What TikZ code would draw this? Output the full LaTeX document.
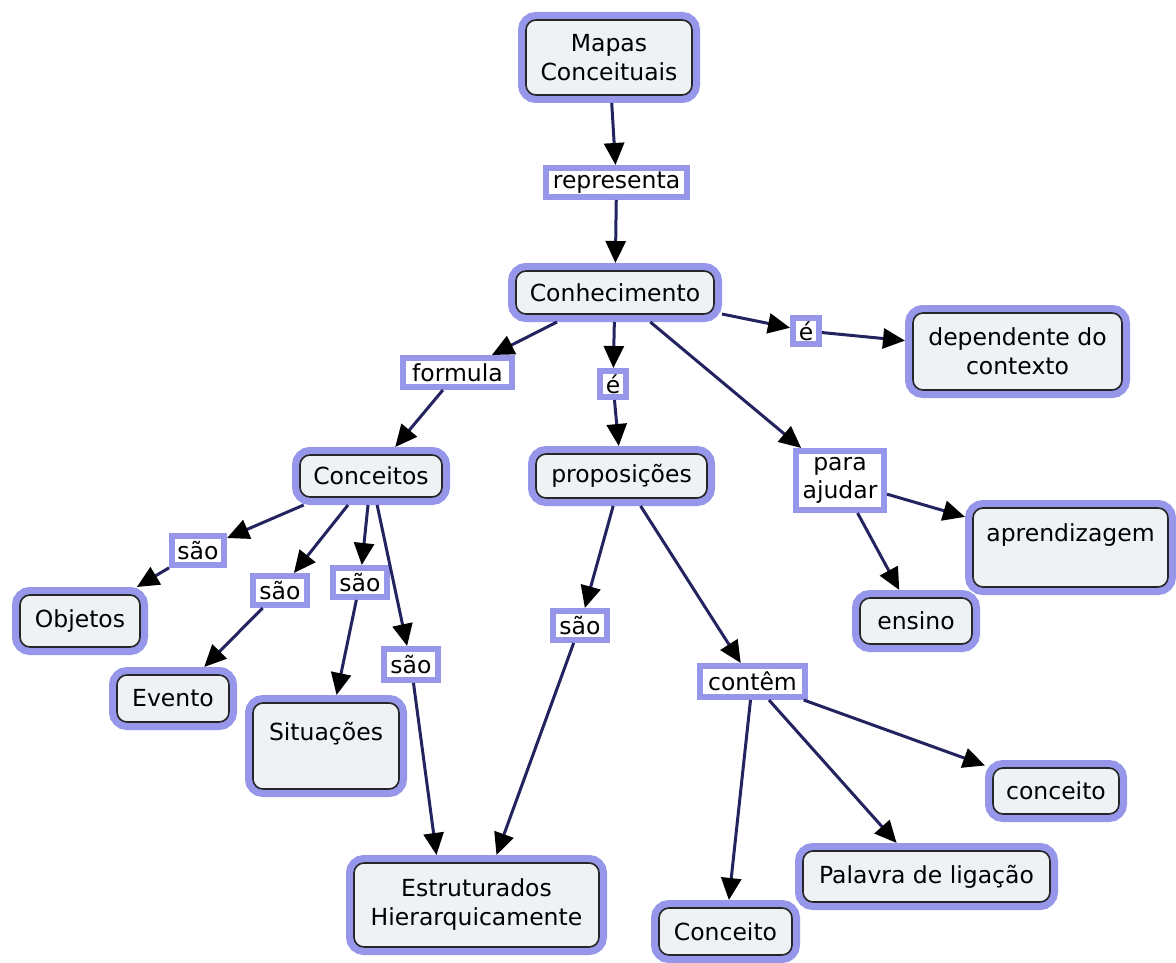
\documentclass[tikz,border=0pt]{standalone}
\usepackage{fontspec}
\setmainfont{DejaVu Sans}
\usetikzlibrary{arrows.meta}
\definecolor{lav}{RGB}{150,150,235}
\definecolor{cfill}{RGB}{238,242,245}
\definecolor{navy}{RGB}{35,35,95}
\begin{document}
\begin{tikzpicture}[x=1pt,y=-1pt,
  concept/.style={draw=black!85, line width=1.6pt, fill=cfill, rounded corners=10pt,
     preaction={draw=lav, line width=16pt},
     inner sep=0pt, outer sep=8pt, align=center, font=\fontsize{23.5}{29}\selectfont},
  linkbox/.style={draw=lav, line width=6pt, fill=white, inner sep=0pt, outer sep=3pt,
     align=center, font=\fontsize{23.5}{28}\selectfont},
  conn/.style={draw=navy, line width=3pt, -{Triangle[length=22pt,width=20pt,color=black]}},
]
\useasboundingbox (0,0) rectangle (1176,963);
% concepts
\node[concept, minimum width=166pt, minimum height=75pt] (mapas) at (609,57.5) {Mapas\\Conceituais};
\node[concept, minimum width=198pt, minimum height=43pt] (conh) at (615,292.5) {Conhecimento};
\node[concept, minimum width=209pt, minimum height=77pt] (dep) at (1017.5,351.5) {dependente do\\contexto};
\node[concept, minimum width=142pt, minimum height=42pt] (conc) at (371,476) {Conceitos};
\node[concept, minimum width=171pt, minimum height=44pt] (prop) at (621.5,476) {proposições};
\node[concept, minimum width=195pt, minimum height=79pt] (apr) at (1070.5,547.5) {aprendizagem\\\mbox{}};
\node[concept, minimum width=112pt, minimum height=46pt] (ens) at (916,621) {ensino};
\node[concept, minimum width=120pt, minimum height=52pt] (obj) at (80,621) {Objetos};
\node[concept, minimum width=112pt, minimum height=47pt] (ev) at (173,698.5) {Evento};
\node[concept, minimum width=146pt, minimum height=86pt] (sit) at (326,746) {Situações\\\mbox{}};
\node[concept, minimum width=126pt, minimum height=46pt] (cl) at (1056,791) {conceito};
\node[concept, minimum width=247pt, minimum height=51pt] (pal) at (926.5,876.5) {Palavra de ligação};
\node[concept, minimum width=133pt, minimum height=47pt] (cu) at (725.5,931.5) {Conceito};
\node[concept, minimum width=245pt, minimum height=84pt] (estr) at (476.5,905) {Estruturados\\Hierarquicamente};
% linking phrases
\node[linkbox, minimum width=141pt, minimum height=29pt] (repr) at (616.5,182.5) {representa};
\node[linkbox, minimum width=26pt, minimum height=26pt] (e1) at (806,331) {é};
\node[linkbox, minimum width=109pt, minimum height=29pt] (form) at (457.5,372.5) {formula};
\node[linkbox, minimum width=26pt, minimum height=26pt] (e2) at (613,384) {é};
\node[linkbox, minimum width=88pt, minimum height=59pt] (para) at (840,480.5) {para\\ajudar};
\node[linkbox, minimum width=52pt, minimum height=29pt] (s1) at (198,550.5) {são};
\node[linkbox, minimum width=54pt, minimum height=29pt] (s2) at (280,590.5) {são};
\node[linkbox, minimum width=54pt, minimum height=29pt] (s3) at (360,582.5) {são};
\node[linkbox, minimum width=54pt, minimum height=31pt] (s4) at (411,664.5) {são};
\node[linkbox, minimum width=54pt, minimum height=29pt] (s5) at (580,625.5) {são};
\node[linkbox, minimum width=105pt, minimum height=31pt] (cont) at (752.5,681.5) {contêm};
% connectors
\draw[conn] (mapas) -- (repr);
\draw[conn] (repr) -- (conh);
\draw[conn] (conh) -- (e1);
\draw[conn] (e1) -- (dep);
\draw[conn] (conh) -- (form);
\draw[conn] (form) -- (conc);
\draw[conn] (conh) -- (e2);
\draw[conn] (e2) -- (prop);
\draw[conn] (conh) -- (para);
\draw[conn] (para) -- (apr);
\draw[conn] (para) -- (ens);
\draw[conn] (conc) -- (s1);
\draw[conn] (s1) -- (obj);
\draw[conn] (conc) -- (s2);
\draw[conn] (s2) -- (ev);
\draw[conn] (conc) -- (s3);
\draw[conn] (s3) -- (sit);
\draw[conn] (conc) -- (s4);
\draw[conn] (s4) -- ([xshift=-40pt]estr.north);
\draw[conn] (prop) -- (s5);
\draw[conn] (s5) -- ([xshift=20pt]estr.north);
\draw[conn] (prop) -- (cont);
\draw[conn] (cont) -- (cl);
\draw[conn] (cont) -- (pal);
\draw[conn] (cont) -- (cu);
\end{tikzpicture}
\end{document}
